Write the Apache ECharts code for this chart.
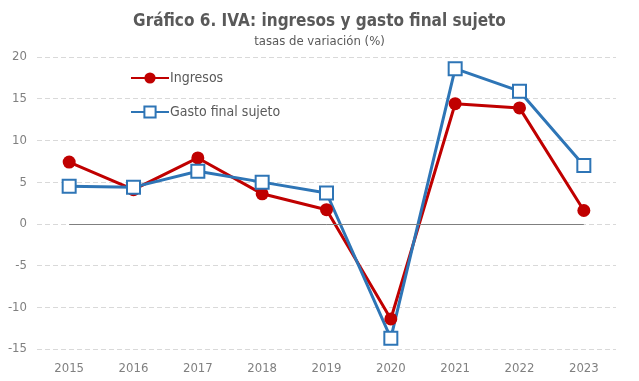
<!DOCTYPE html>
<html><head><meta charset="utf-8">
<script src="https://cdn.jsdelivr.net/npm/echarts@6/dist/echarts.min.js"></script>
<style>html,body{margin:0;padding:0;background:#fff}#c{width:639px;height:381px}</style>
</head><body><div id="c"></div>
<script>
const years = ['2015','2016','2017','2018','2019','2020','2021','2022','2023'];
const ingresos = [7.4, 4.1, 7.9, 3.6, 1.7, -11.4, 14.4, 13.9, 1.6];
const gasto = [4.5, 4.4, 6.3, 5.0, 3.7, -13.7, 18.6, 15.9, 7.0];
const yTicks = [-15, -10, -5, 0, 5, 10, 15, 20];
const FONT = "'Liberation Sans Narrow','Arial Narrow','DejaVu Sans Condensed',sans-serif";
const chart = echarts.init(document.getElementById('c'), null, {renderer:'canvas'});
chart.setOption({
  animation:false,
  textStyle:{fontFamily:FONT},
  title:{text:'Gráfico 6. IVA: ingresos y gasto final sujeto', subtext:'tasas de variación (%)',
    left:'center', top:8, itemGap:5,
    textStyle:{fontFamily:FONT, fontSize:17, fontWeight:'bold', color:'#595959'},
    subtextStyle:{fontFamily:FONT, fontSize:13, color:'#595959'}},
  legend:{orient:'vertical', left:125, top:66, itemGap:20, itemWidth:38, itemHeight:14,
    textStyle:{fontFamily:FONT, fontSize:14, color:'#595959', padding:[0,0,0,-4]},
    data:['Ingresos','Gasto final sujeto']},
  grid:{left:37, right:23, top:57, bottom:32},
  xAxis:{type:'category', data:years, boundaryGap:true,
    axisLine:{show:false}, axisTick:{show:false},
    axisLabel:{fontFamily:FONT, fontSize:13, color:'#808080', margin:13}},
  yAxis:{type:'value', min:-15, max:20, interval:5,
    axisLine:{show:false}, axisTick:{show:false},
    axisLabel:{fontFamily:FONT, fontSize:13, color:'#808080', margin:10,
      formatter:v=>yTicks.includes(v)?String(v):''},
    splitLine:{lineStyle:{color:'#d9d9d9', type:[5,3], width:1}}},
  series:[
    {name:'Ingresos', type:'line', data:ingresos, symbol:'circle', symbolSize:13,
      lineStyle:{color:'#C00000', width:3}, itemStyle:{color:'#C00000'},
      markLine:{silent:true, symbol:'none', label:{show:false},
        lineStyle:{color:'#7f7f7f', width:1, type:'solid'},
        data:[[{coord:[years[0],0]},{coord:[years[years.length-1],0]}]]}},
    {name:'Gasto final sujeto', type:'line', data:gasto, symbol:'rect', symbolSize:13,
      lineStyle:{color:'#2E75B6', width:3},
      itemStyle:{color:'#ffffff', borderColor:'#2E75B6', borderWidth:2}}
  ]
});
</script></body></html>
